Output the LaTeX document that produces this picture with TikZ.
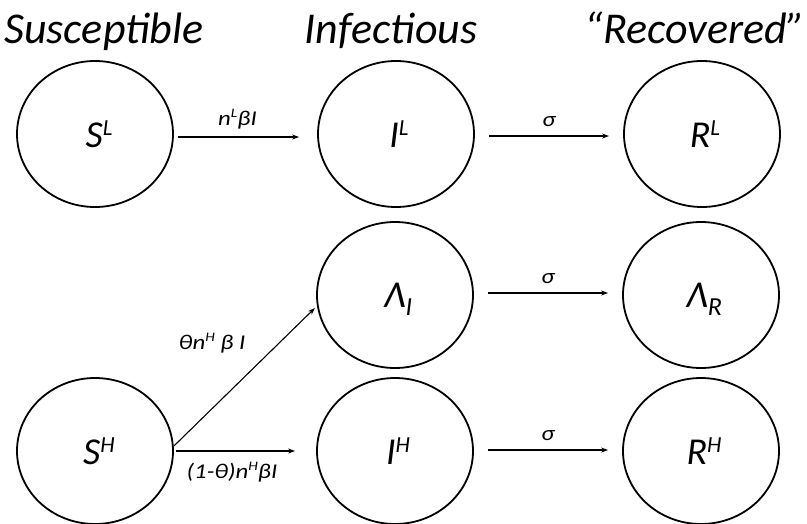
\documentclass[tikz,border=0pt]{standalone}
\usepackage{fontspec}
\setmainfont{Carlito}
\usetikzlibrary{arrows.meta,shapes.geometric}
\newcommand{\hs}[1]{\scalebox{1.18}[1]{#1}}
\newcommand{\bigsup}[1]{\raisebox{12pt}{\fontsize{23}{23}\selectfont #1}}
\newcommand{\bigsub}[1]{\raisebox{-8pt}{\fontsize{26}{26}\selectfont #1}}
\newcommand{\smsup}[1]{\raisebox{8pt}{\fontsize{13}{13}\selectfont #1}}
\begin{document}
\begin{tikzpicture}[x=1pt,y=-1pt,
  state/.style={draw, line width=1.8pt, ellipse, minimum width=156pt, minimum height=146pt, inner sep=0pt,
    font=\fontsize{38}{40}\selectfont\itshape, text depth=0pt},
  title/.style={font=\fontsize{44}{48}\selectfont\itshape, anchor=base},
  flow/.style={-{Stealth[length=7pt,width=5pt]}, line width=1.1pt},
  lab/.style={font=\fontsize{21}{23}\selectfont\itshape}]
\useasboundingbox (0,0) rectangle (807,523);
\node[title] (t1) at (104,43) {Susceptible};
\node[title] (t2) at (391,43) {Infectious};
\node[title] (t3) at (695,43) {“Recovered”};

\node[state] (SL) at (95,134) {\hspace*{8pt}S\bigsup{L}};
\node[state] (IL) at (396,134) {\hspace*{6pt}I\bigsup{L}};
\node[state] (RL) at (702,134) {\hspace*{6pt}R\bigsup{L}};
\node[state] (LI) at (395,295) {\hspace*{6pt}Λ\bigsub{I}};
\node[state] (LR) at (701,295) {\hspace*{6pt}Λ\bigsub{R}};
\node[state] (SH) at (95,451) {\hspace*{8pt}S\bigsup{H}};
\node[state] (IH) at (395,451) {\hspace*{6pt}I\bigsup{H}};
\node[state] (RH) at (701,451) {\hspace*{6pt}R\bigsup{H}};

\draw[flow, shorten >=18pt, shorten <=4pt] ([yshift=-3pt]SL.east) -- ([yshift=-3pt]IL.west)
  node[lab, midway, above=4pt, xshift=-8pt] (l1) {\hs{n\smsup{L}βI}};
\draw[flow, shorten >=14pt, shorten <=14pt] ([yshift=-2pt]IL.east) -- ([yshift=-2pt]RL.west)
  node[lab, midway, above=5pt] (l2) {\hs{σ}};
\draw[flow, shorten >=14pt, shorten <=14pt] ([yshift=2pt]LI.east) -- ([yshift=2pt]LR.west)
  node[lab, midway, above=5pt] (l3) {\hs{σ}};
\draw[flow, shorten >=14pt, shorten <=14pt] ([yshift=1pt]IH.east) -- ([yshift=1pt]RH.west)
  node[lab, midway, above=5pt] (l4) {\hs{σ}};
\draw[flow, shorten <=0pt, shorten >=3pt] ([yshift=5pt]SH.east) -- (LI.188);
\node[lab] (l5) at (212,343) {\hs{θn\smsup{H} β I}};
\draw[flow, shorten >=21pt, shorten <=2pt] (SH.east) -- (IH.west)
  node[lab, midway, below=7pt, xshift=-13pt] (l6) {\hs{(1-θ)n\smsup{H}βI}};
\end{tikzpicture}
\end{document}
